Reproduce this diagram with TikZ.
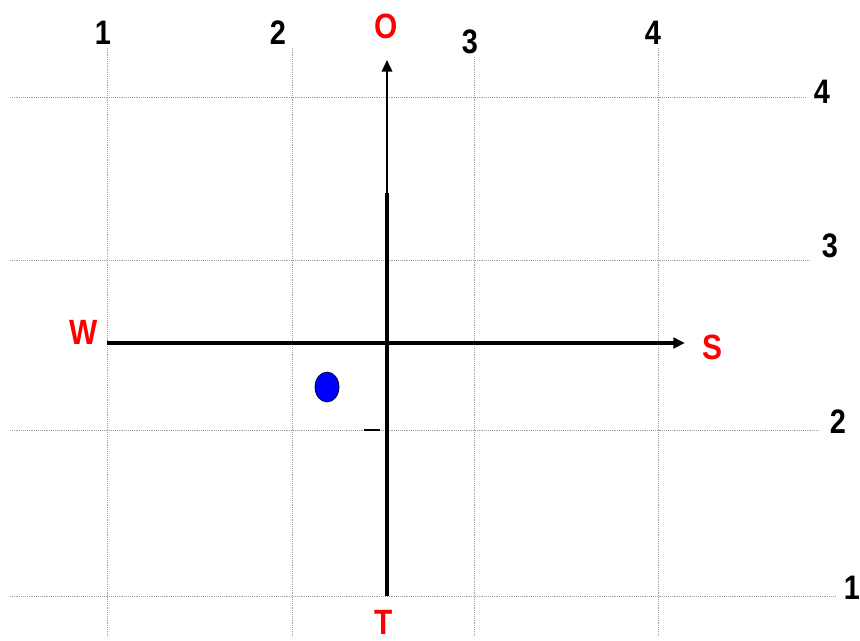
\documentclass[tikz,border=0pt]{standalone}
\usepackage{fontspec}
\setmainfont{Liberation Sans}[FakeStretch=0.85]
\usetikzlibrary{arrows.meta,shapes.geometric}
\tikzset{
  gridline/.style={densely dotted, gray!75, line width=0.6pt},
  numlabel/.style={font=\fontsize{29}{32}\selectfont\bfseries, fill=white, inner sep=2pt},
  dirlabel/.style={font=\fontsize{30}{33}\selectfont\bfseries, text=red, inner sep=1pt},
  axis/.style={line width=2.6pt},
  axistip/.style={-{Triangle[length=10pt, width=9pt]}},
}

\begin{document}
\begin{tikzpicture}[x=0.03cm, y=-0.03cm]
    \useasboundingbox[fill=white] (0,0) rectangle (860,641);
    % grid
    \foreach \x in {107,292,474,658}
      \draw[gridline] (\x,48) -- (\x,635);
    \draw[gridline] (10,97) -- (805,97);
    \draw[gridline] (10,260) -- (810,260);
    \draw[gridline] (10,430) -- (818,430);
    \draw[gridline] (10,596) -- (835,596);
    % column and row numbers
    \node[numlabel] (c1) at (103,33) {1};
    \node[numlabel] (c2) at (278,33) {2};
    \node[numlabel] (c3) at (470,42) {3};
    \node[numlabel] (c4) at (653,33) {4};
    \node[numlabel] (r4) at (822,92) {4};
    \node[numlabel] (r3) at (830,246) {3};
    \node[numlabel] (r2) at (838,422) {2};
    \node[numlabel] (r1) at (852,588) {1};
    % directions
    \node[dirlabel] (north) at (386,26) {O};
    \node[dirlabel] (west) at (84,332) {W};
    \node[dirlabel] (east) at (712,347) {S};
    \node[dirlabel] (south) at (384,622) {T};
    \coordinate (wend) at (107,343);
    \coordinate (send) at (685,343);
    \coordinate (tend) at (387,596);
    \coordinate (mid) at (387,193);
    \coordinate (oend) at (387,60);
    \draw[axis, axistip] (wend) -- (send);
    \draw[axis] (tend) -- (mid);
    \draw[line width=1.8pt, axistip] (mid) -- (oend);
    \coordinate (tick1) at (364,430);
    \coordinate (tick2) at (380,430);
    \draw[line width=1.3pt] (tick1) -- (tick2);
    % position
    \node[draw, fill=blue, ellipse, line width=0.6pt, inner sep=0pt,
      minimum width=0.72cm, minimum height=0.9cm] (pos) at (327,387) {};
  \end{tikzpicture}
\end{document}
